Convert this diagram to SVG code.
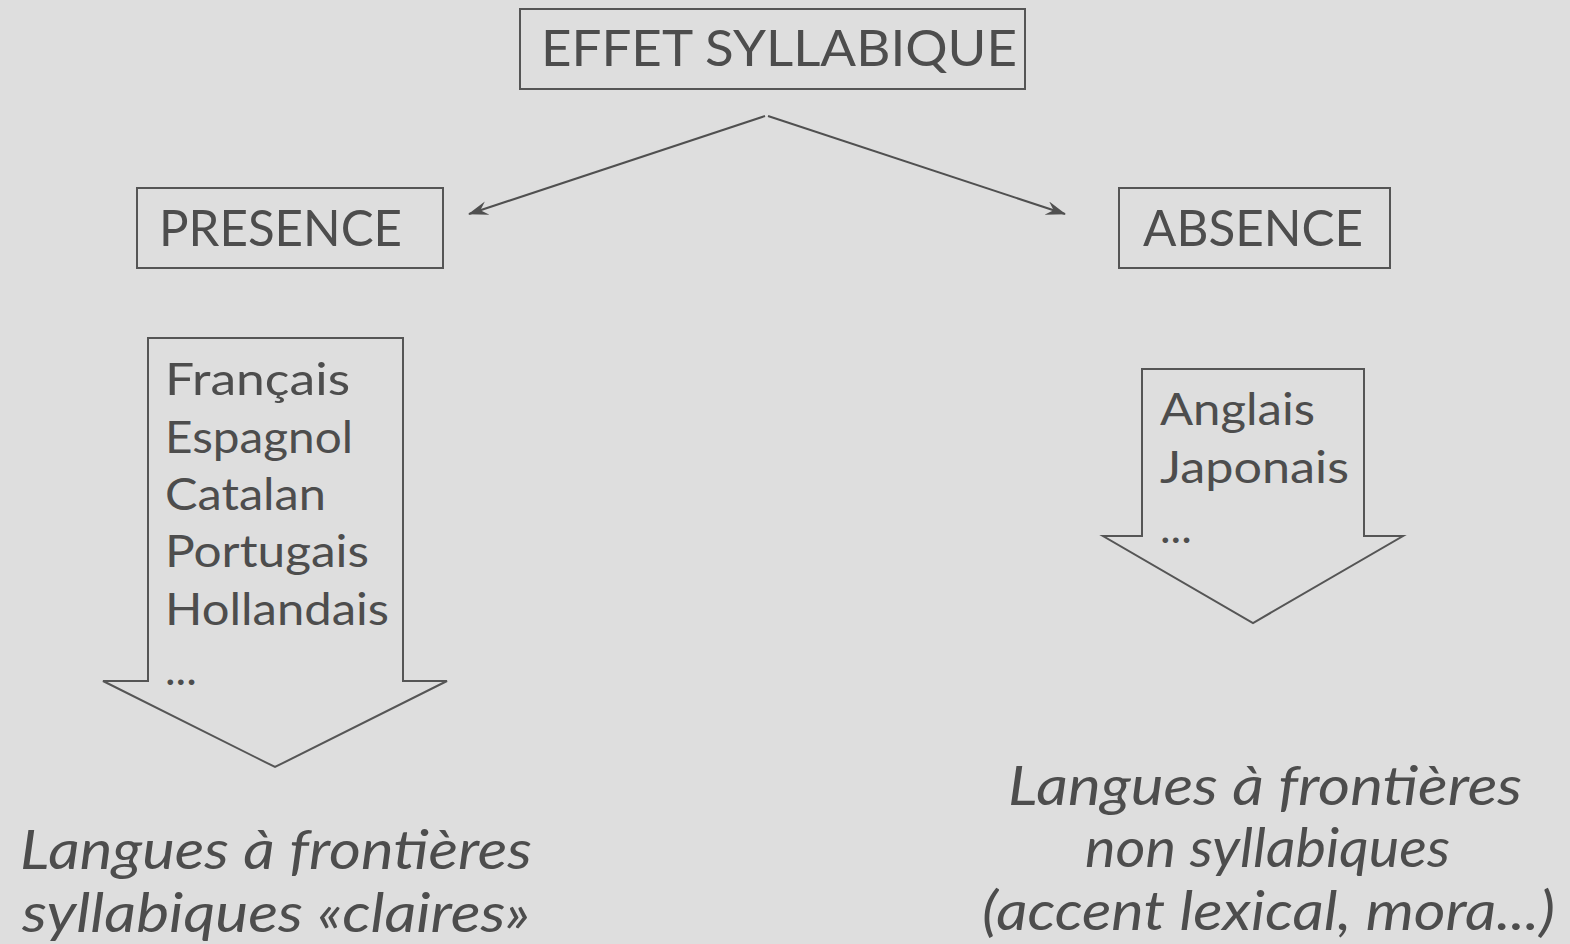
<svg xmlns="http://www.w3.org/2000/svg" width="1570" height="944" viewBox="0 0 1570 944">
<style>
.t{font-family:"Lato","Open Sans","DejaVu Sans",sans-serif;fill:#4d4d4d}
.n{font-size:50px}
.l{font-size:45px}
.i{font-size:55px;font-style:italic}
.box{fill:none;stroke:#555;stroke-width:2}
.blk{fill:none;stroke:#555;stroke-width:2;stroke-linejoin:miter}
.con{fill:none;stroke:#505050;stroke-width:2}
</style>
<defs>
<marker id="ah" markerWidth="20" markerHeight="14" refX="19" refY="7" orient="auto" markerUnits="userSpaceOnUse">
<path d="M0,0 L20,7 L0,14 L7,7 Z" fill="#505050"/>
</marker>
</defs>
<rect width="1570" height="944" fill="#dedede"/>
<g id="effet">
<rect class="box" x="520" y="9" width="505" height="80"/>
<text class="t n" x="541" y="66" textLength="476" lengthAdjust="spacingAndGlyphs">EFFET SYLLABIQUE</text>
</g>
<g id="presence">
<rect class="box" x="137" y="188" width="306" height="80"/>
<text class="t n" x="159" y="246" textLength="243" lengthAdjust="spacingAndGlyphs">PRESENCE</text>
</g>
<g id="absence">
<rect class="box" x="1119" y="188" width="271" height="80"/>
<text class="t n" x="1143" y="246" textLength="220" lengthAdjust="spacingAndGlyphs">ABSENCE</text>
</g>
<g id="connectors">
<line class="con" x1="765" y1="116" x2="469" y2="214" marker-end="url(#ah)"/>
<line class="con" x1="768" y1="116" x2="1065" y2="214" marker-end="url(#ah)"/>
</g>
<g id="left-arrow">
<polygon class="blk" points="148,338 403,338 403,681 447,681 275,767 103,681 148,681"/>
<text class="t l" x="165" y="395" textLength="185" lengthAdjust="spacingAndGlyphs">Français</text>
<text class="t l" x="165" y="453" textLength="188" lengthAdjust="spacingAndGlyphs">Espagnol</text>
<text class="t l" x="165" y="510" textLength="161" lengthAdjust="spacingAndGlyphs">Catalan</text>
<text class="t l" x="165" y="567" textLength="204" lengthAdjust="spacingAndGlyphs">Portugais</text>
<text class="t l" x="165" y="625" textLength="224" lengthAdjust="spacingAndGlyphs">Hollandais</text>
<text class="t l" x="165" y="685">...</text>
</g>
<g id="right-arrow">
<polygon class="blk" points="1142,369 1364,369 1364,536 1403,536 1253,623 1103,536 1142,536"/>
<text class="t l" x="1160" y="425" textLength="155" lengthAdjust="spacingAndGlyphs">Anglais</text>
<text class="t l" x="1160" y="483" textLength="189" lengthAdjust="spacingAndGlyphs">Japonais</text>
<text class="t l" x="1160" y="543">...</text>
</g>
<g id="left-caption">
<text class="t i" x="20" y="869" textLength="512" lengthAdjust="spacingAndGlyphs">Langues à frontières</text>
<text class="t i" x="22" y="932" textLength="508" lengthAdjust="spacingAndGlyphs">syllabiques «claires»</text>
</g>
<g id="right-caption">
<text class="t i" x="1008" y="805" textLength="514" lengthAdjust="spacingAndGlyphs">Langues à frontières</text>
<text class="t i" x="1085" y="867" textLength="365" lengthAdjust="spacingAndGlyphs">non syllabiques</text>
<text class="t i" x="982" y="930" textLength="573" lengthAdjust="spacingAndGlyphs">(accent lexical, mora...)</text>
</g>
</svg>
